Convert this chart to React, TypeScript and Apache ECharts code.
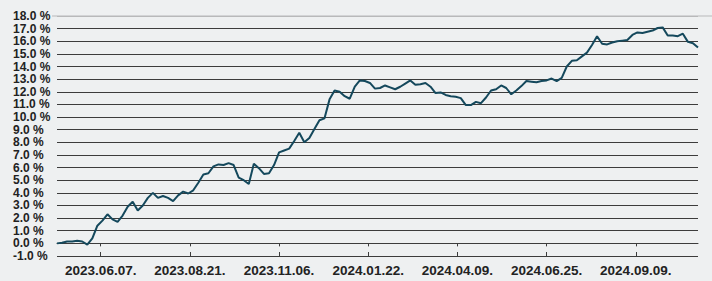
import React, { useEffect, useRef } from "react";
import * as echarts from "echarts";

// Trading-day step between consecutive values
const stepDays = 3;
const totalDays = 381;

// Cumulative return (%) sampled every 3 trading days
const returns = [
  0.0, 0.05, 0.15, 0.15, 0.2, 0.15, -0.1, 0.4, 1.4, 1.8,
  2.3, 1.9, 1.7, 2.2, 2.9, 3.3, 2.6, 3.0, 3.6, 4.0,
  3.6, 3.75, 3.6, 3.35, 3.8, 4.1, 3.95, 4.2, 4.8, 5.45,
  5.55, 6.1, 6.25, 6.2, 6.35, 6.2, 5.2, 5.0, 4.7, 6.3,
  5.95, 5.5, 5.55, 6.2, 7.2, 7.35, 7.5, 8.1, 8.75, 8.0,
  8.35, 9.05, 9.75, 9.9, 11.4, 12.1, 12.0, 11.65, 11.45, 12.4,
  12.9, 12.85, 12.7, 12.25, 12.3, 12.5, 12.35, 12.2, 12.4, 12.65,
  12.9, 12.55, 12.6, 12.7, 12.4, 11.9, 11.95, 11.75, 11.65, 11.6,
  11.5, 10.95, 10.95, 11.2, 11.1, 11.55, 12.1, 12.2, 12.5, 12.3,
  11.8, 12.1, 12.45, 12.85, 12.8, 12.75, 12.85, 12.9, 13.05, 12.85,
  13.1, 14.0, 14.45, 14.5, 14.8, 15.1, 15.7, 16.4, 15.8, 15.75,
  15.9, 16.0, 16.05, 16.1, 16.5, 16.7, 16.65, 16.75, 16.85, 17.05,
  17.1, 16.45, 16.45, 16.4, 16.6, 15.95, 15.85, 15.5,
];

// X-axis tick labels and their trading-day positions
const tickLabels = [
  "2023.06.07.",
  "2023.08.21.",
  "2023.11.06.",
  "2024.01.22.",
  "2024.04.09.",
  "2024.06.25.",
  "2024.09.09.",
];
const tickDays = [26, 79, 132, 185, 238, 291, 344];

// Y-axis range
const yMin = -1;
const yMax = 18;
const yStep = 1;

export default function App() {
  const ref = useRef<HTMLDivElement>(null);

  useEffect(() => {
    if (!ref.current) return;
    const chart = echarts.init(ref.current, null, { renderer: "svg" });
    const font = "'Liberation Sans', Arial, sans-serif";
    const lineCount = Math.round((yMax - yMin) / yStep) + 1;
    const splitColors: string[] = [];
    for (let k = 0; k < lineCount; k++) {
      splitColors.push(k === lineCount - 1 ? "#b8b9ba" : "#3c3c3c");
    }
    const labelFmt = (v: number) => {
      const idx = tickDays.indexOf(Math.round(v));
      return idx >= 0 ? tickLabels[idx] : "";
    };
    chart.setOption({
      animation: false,
      backgroundColor: "#eef0f1",
      grid: { left: 57, right: 14, top: 16, bottom: 25, containLabel: false },
      xAxis: [
        {
          type: "value",
          min: 0,
          max: totalDays,
          axisLine: { show: true, lineStyle: { color: "#3c3c3c", width: 1 } },
          axisTick: {
            show: true,
            customValues: tickDays,
            length: 3,
            lineStyle: { color: "#3c3c3c", width: 1 },
          },
          axisLabel: {
            show: true,
            customValues: tickDays,
            formatter: labelFmt,
            margin: 7,
            color: "#222",
            fontFamily: font,
            fontWeight: "bold",
            fontSize: 13.5,
          },
          splitLine: { show: false },
        },
        {
          type: "value",
          position: "bottom",
          min: 0,
          max: totalDays,
          axisLine: { show: false },
          axisTick: {
            show: true,
            inside: true,
            customValues: tickDays,
            length: 4,
            lineStyle: { color: "#3c3c3c", width: 1 },
          },
          axisLabel: { show: false },
          splitLine: { show: false },
        },
      ],
      yAxis: {
        type: "value",
        min: yMin,
        max: yMax,
        interval: yStep,
        axisLine: { show: false },
        axisTick: { show: false },
        axisLabel: {
          align: "left",
          margin: 44,
          showMinLabel: true,
          showMaxLabel: true,
          hideOverlap: false,
          color: "#222",
          fontFamily: font,
          fontWeight: "bold",
          fontSize: 12,
          lineHeight: 12,
          formatter: (v: number) => v.toFixed(1) + " %",
        },
        splitLine: { show: true, lineStyle: { color: splitColors, width: 1 } },
      },
      series: [
        {
          type: "line",
          data: returns.map((v, i) => [i * stepDays, v]),
          showSymbol: false,
          symbol: "none",
          lineStyle: { color: "#14485c", width: 2 },
          z: 5,
        },
      ],
    });
    const topY = chart.convertToPixel({ yAxisIndex: 0 }, yMax) as number;
    chart.setOption({
      graphic: [
        {
          type: "line",
          shape: { x1: 52, y1: topY, x2: 712, y2: topY },
          style: { stroke: "#b8b9ba", lineWidth: 1 },
          z: 1,
        },
      ],
    });
    return () => chart.dispose();
  }, []);

  return (
    <div
      ref={ref}
      style={{ position: "fixed", left: 0, top: 0, width: 712, height: 281 }}
    />
  );
}
